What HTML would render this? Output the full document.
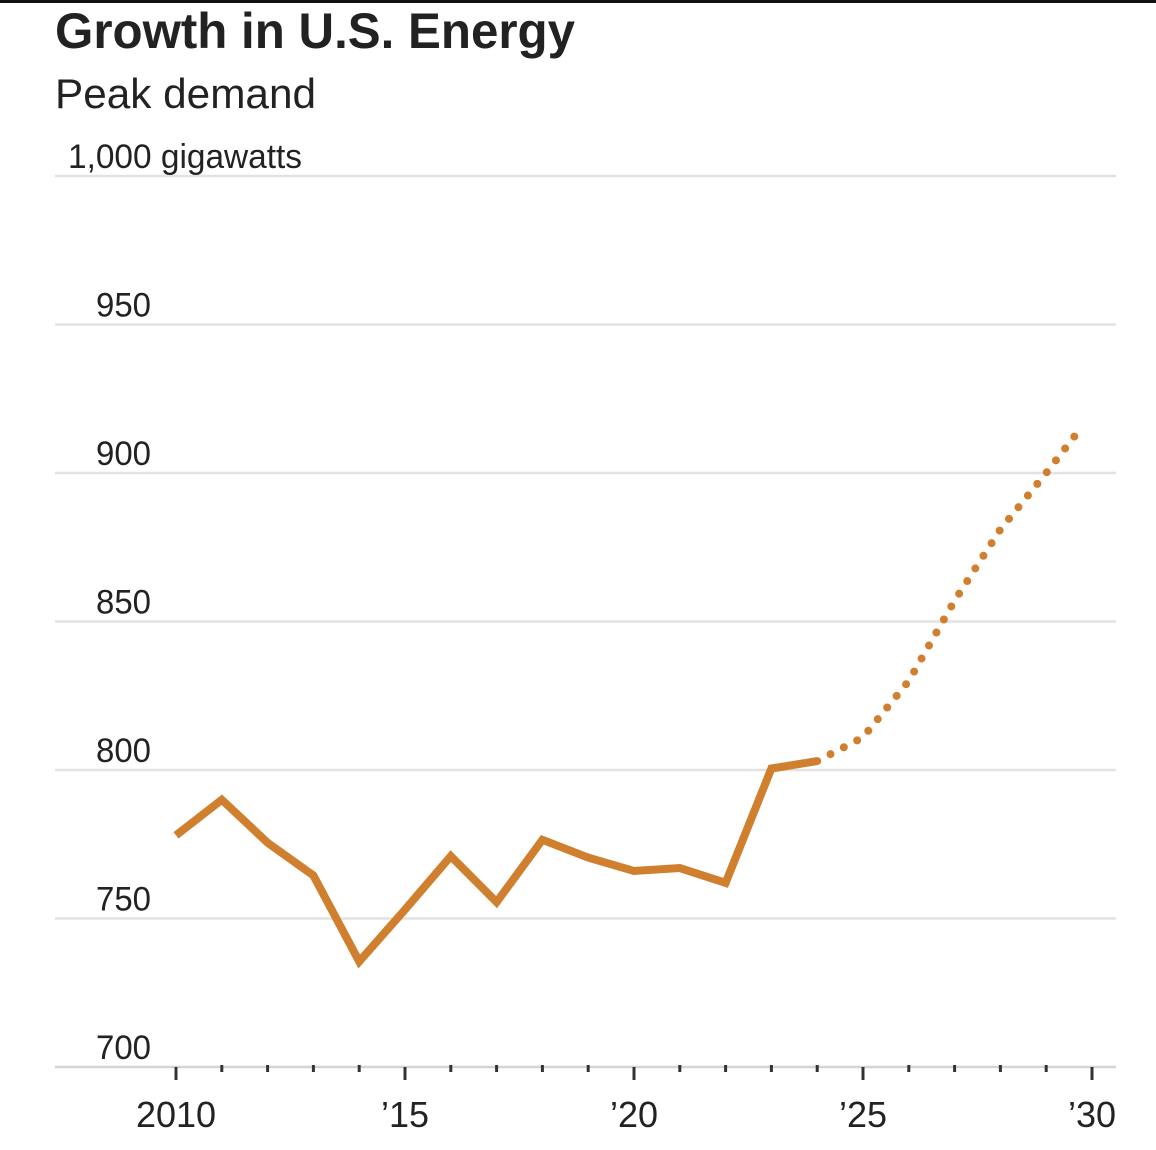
<!DOCTYPE html>
<html><head><meta charset="utf-8"><style>
html,body{margin:0;padding:0;background:#fff;width:1156px;height:1150px;overflow:hidden}
svg{display:block;font-family:"Liberation Sans",sans-serif}
</style></head><body>
<svg id="chart" width="1156" height="1150" viewBox="0 0 1156 1150" xmlns="http://www.w3.org/2000/svg">
<rect x="0" y="0" width="1156" height="3" fill="#111"/>
<text x="55" y="48" font-size="50" font-weight="bold" fill="#222" textLength="520" lengthAdjust="spacingAndGlyphs">Growth in U.S. Energy</text>
<text x="55" y="108" font-size="42" fill="#222" textLength="261" lengthAdjust="spacingAndGlyphs">Peak demand</text>
<g id="grid"></g>
<g id="axis"></g>
<g id="series"></g>
</svg>
<script>
const years = [2010,2011,2012,2013,2014,2015,2016,2017,2018,2019,2020,2021,2022,2023,2024];
const demand = [778,790,775.5,764.5,735.5,753,771,755.5,776.5,770.5,766,767,762,800.5,803];
const projYears = [2024,2025,2026,2027,2028,2029,2029.8];
const projDemand = [803,811,830,857,881,900,916];
const yTicks = [700,750,800,850,900,950,1000];
const yTickLabels = ["700","750","800","850","900","950","1,000 gigawatts"];
const xTicks = [2010,2015,2020,2025,2030];
const xTickLabels = ["2010","\u201915","\u201920","\u201925","\u201930"];

const NS="http://www.w3.org/2000/svg";
const x = v => 176 + (v-2010)*(1092-176)/20;
const y = v => 1067 - (v-700)*(1067-176)/300;
function mk(tag, attrs, parent){const e=document.createElementNS(NS,tag);for(const k in attrs)e.setAttribute(k,attrs[k]);parent.appendChild(e);return e;}
const grid=document.getElementById('grid'), axis=document.getElementById('axis'), series=document.getElementById('series');

yTicks.forEach((t,i)=>{
  const l=mk('line',{x1:55,x2:1116,y1:y(t),y2:y(t),stroke:i===0?'#d4d4d4':'#e2e2e2','stroke-width':2.5},grid);
  
  
  const lbl=yTickLabels[i];
  const tx=mk('text',{x:i===6?68:96,y:y(t)-8,'font-size':34,fill:'#222',textLength:i===6?234:55,lengthAdjust:'spacingAndGlyphs'},grid);
  tx.textContent=lbl;
  
  
});
for(let yr=2010; yr<=2030; yr++){
  const major = xTicks.includes(yr);
  const tk=mk('line',{x1:x(yr),x2:x(yr),y1:major?1067:1065,y2:major?1080:1072,stroke:'#333','stroke-width':3},axis);
  
  
}
xTicks.forEach((t,i)=>{
  const tx=mk('text',{x:x(t),y:1127,'font-size':36,fill:'#222','text-anchor':'middle'},axis);
  tx.textContent=xTickLabels[i];
  
  
});
const pts=years.map((yr,i)=>x(yr)+','+y(demand[i])).join(' ');
const line=mk('polyline',{points:pts,fill:'none',stroke:'#d07f2f','stroke-width':8,'stroke-linejoin':'miter','stroke-linecap':'butt'},series);


const ppts=projYears.map((yr,i)=>x(yr)+','+y(projDemand[i])).join(' ');
const proj=mk('polyline',{points:ppts,fill:'none',stroke:'#d07f2f','stroke-width':8,'stroke-linecap':'round','stroke-dasharray':'0 15'},series);


</script>
</body></html>
